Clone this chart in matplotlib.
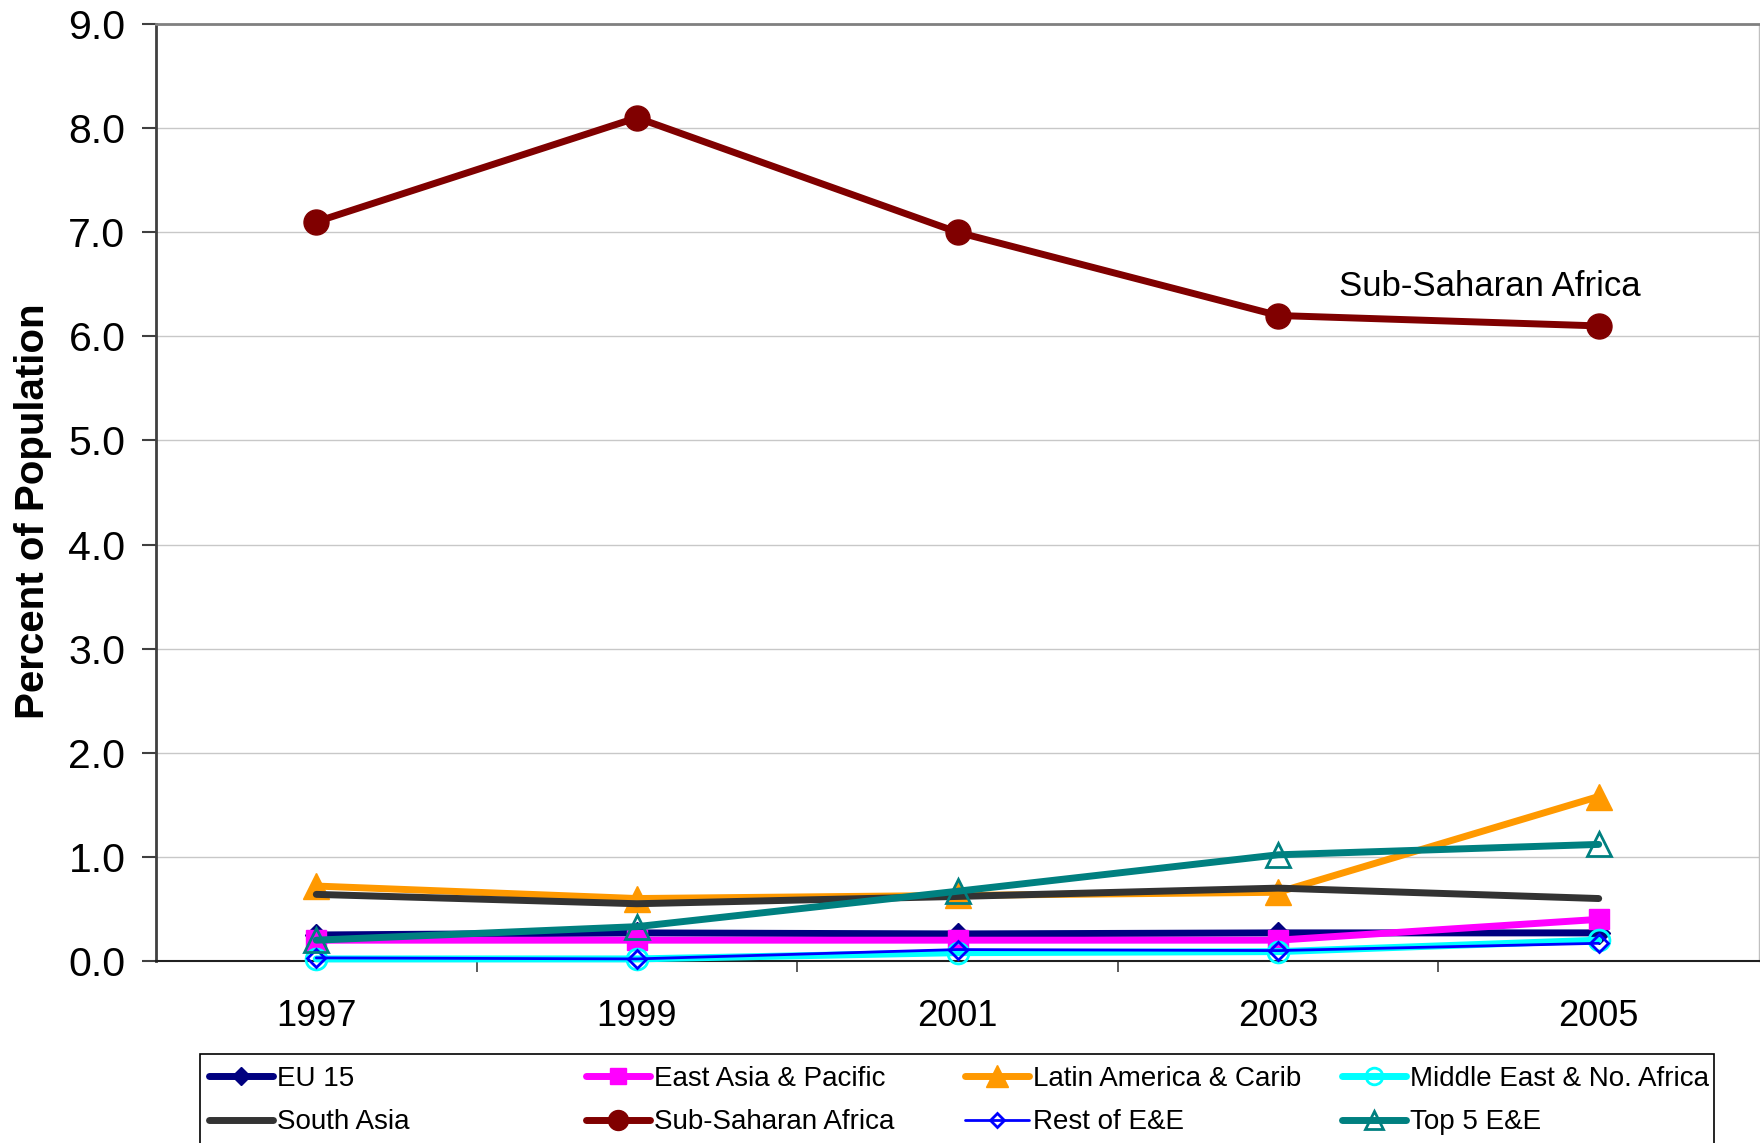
import matplotlib
matplotlib.use("Agg")
import matplotlib.pyplot as plt
from matplotlib.patches import Rectangle
from matplotlib.ticker import FormatStrFormatter, FixedLocator

plt.rcParams['font.family'] = ['Liberation Sans', 'DejaVu Sans']

years = ["1997", "1999", "2001", "2003", "2005"]

eu15 = [0.25, 0.27, 0.26, 0.27, 0.27]
east_asia = [0.20, 0.20, 0.20, 0.20, 0.40]
latin_america = [0.72, 0.60, 0.63, 0.66, 1.58]
middle_east = [0.02, 0.02, 0.08, 0.09, 0.20]
south_asia = [0.64, 0.55, 0.62, 0.70, 0.60]
sub_saharan = [7.1, 8.1, 7.0, 6.2, 6.1]
rest_ee = [0.03, 0.02, 0.11, 0.10, 0.17]
top5_ee = [0.20, 0.33, 0.67, 1.02, 1.12]

yticks = [0, 1, 2, 3, 4, 5, 6, 7, 8, 9]

W, H = 1760, 1143
fig = plt.figure(figsize=(W / 100, H / 100), dpi=100)
ax = fig.add_axes([156 / W, 1 - 961 / H, (1759 - 156) / W, (961 - 24) / H])

x = list(range(len(years)))

LW = 5
series = [
    ("EU 15", eu15, dict(color="#000080", lw=LW, marker="D", ms=11, mfc="#000080", mec="#000080")),
    ("East Asia & Pacific", east_asia, dict(color="#FF00FF", lw=LW, marker="s", ms=15, mfc="#FF00FF", mec="#FF00FF")),
    ("Latin America & Carib", latin_america, dict(color="#FF9900", lw=LW, marker="^", ms=19, mfc="#FF9900", mec="#FF9900")),
    ("Middle East & No. Africa", middle_east, dict(color="#00FFFF", lw=LW, marker="o", ms=15, mfc="none", mec="#00FFFF", mew=2)),
    ("South Asia", south_asia, dict(color="#333333", lw=LW)),
    ("Sub-Saharan Africa", sub_saharan, dict(color="#800000", lw=LW, marker="o", ms=18, mfc="#800000", mec="#800000")),
    ("Rest of E&E", rest_ee, dict(color="#0000FF", lw=2, marker="D", ms=9, mfc="none", mec="#0000FF", mew=2)),
    ("Top 5 E&E", top5_ee, dict(color="#008080", lw=LW, marker="^", ms=17, mfc="none", mec="#008080", mew=2)),
]

handles = {}
for i, (name, vals, st) in enumerate(series):
    ln, = ax.plot(x, vals, label=name, zorder=3 + i, clip_on=False, solid_capstyle="round", **st)
    handles[name] = ln

ax.set_xlim(-0.5, len(years) - 0.5)
ax.set_ylim(0, 9)
ax.yaxis.set_major_locator(FixedLocator(yticks))
ax.yaxis.set_major_formatter(FormatStrFormatter("%.1f"))
ax.set_xticks(x)
ax.set_xticklabels(years)
ax.set_xticks([i + 0.5 for i in range(len(years) - 1)], minor=True)
ax.tick_params(axis="x", which="major", length=0, labelsize=26, pad=27)
ax.tick_params(axis="x", which="minor", length=8, width=1.2, direction="out", color="#404040")
ax.tick_params(axis="y", which="major", length=10, width=1.5, direction="out", labelsize=29.5, pad=12, color="#404040")

ax.grid(axis="y", color="#c8c8c8", lw=1)
ax.set_axisbelow(True)

ax.spines["top"].set_color("#808080")
ax.spines["top"].set_linewidth(2)
ax.spines["right"].set_color("#c0c0c0")
ax.spines["right"].set_linewidth(1)
ax.spines["left"].set_color("#404040")
ax.spines["left"].set_linewidth(2)
ax.spines["bottom"].set_color("#202020")
ax.spines["bottom"].set_linewidth(1.5)

fig.text(33 / W, 1 - 511 / H, "Percent of Population", fontsize=29, fontweight="bold",
         rotation=90, ha="center", va="center")

ax.text(1339 / W, 1 - 296 / H, "Sub-Saharan Africa", transform=fig.transFigure,
        fontsize=25, ha="left", va="baseline")

# legend frame
fig.add_artist(Rectangle((200 / W, -0.05), (1714 - 200) / W, 0.05 + 1 - 1054 / H,
                         transform=fig.transFigure, fill=False, edgecolor="#000000", lw=1.2))

columns = [
    (209, ["EU 15", "South Asia"]),
    (586, ["East Asia & Pacific", "Sub-Saharan Africa"]),
    (965, ["Latin America & Carib", "Rest of E&E"]),
    (1342, ["Middle East & No. Africa", "Top 5 E&E"]),
]
for xpx, names in columns:
    leg = fig.legend([handles[n] for n in names], names, loc="upper left",
                     bbox_to_anchor=(xpx / W, 1 - 1066 / H), bbox_transform=fig.transFigure,
                     frameon=False, fontsize=20, borderpad=0, borderaxespad=0,
                     handlelength=2.3, handletextpad=0.15, labelspacing=0.62,
                     markerscale=0.8)

fig.savefig("out.png", dpi=100)
